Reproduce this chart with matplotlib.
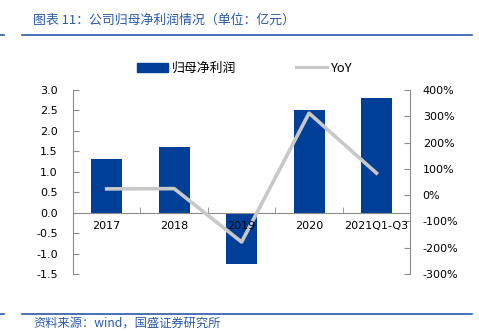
import matplotlib
matplotlib.use("Agg")
import matplotlib.pyplot as plt
from matplotlib.lines import Line2D
from matplotlib.patches import Patch

plt.rcParams['font.family'] = ['DejaVu Sans', 'Noto Sans CJK SC']

years = ["2017", "2018", "2019", "2020", "2021Q1-Q3"]
profit = [1.32, 1.61, -1.25, 2.52, 2.81]     # 归母净利润, 亿元
yoy = [24, 25, -178, 312, 84]                 # YoY, %

bar_blue = "#003f98"
line_grey = "#c8c8c8"
head_blue = "#2a5aa8"
axis_grey = "#8c8c8c"
cjk = ['Noto Sans CJK SC', 'DejaVu Sans']

fig = plt.figure(figsize=(4.79, 3.31), dpi=100)
ax = fig.add_axes([0.1524, 0.172, 0.704, 0.556])
ax2 = ax.twinx()

ax.set_xlim(-0.5, len(years) - 0.5)
ax.set_ylim(-1.5, 3.0)
ax2.set_ylim(-300, 400)

x = list(range(len(years)))
ax.bar(x, profit, width=0.46, color=bar_blue, zorder=2)
# YoY line lives in ax (so the category labels can sit above it) but uses the right-hand scale
ax.plot(x, yoy, color=line_grey, lw=2.6, zorder=3, transform=ax2.transData)
ax.xaxis.set_zorder(4)

ax.set_yticks([-1.5, -1.0, -0.5, 0, 0.5, 1.0, 1.5, 2.0, 2.5, 3.0])
ax.set_yticklabels([f"{v:.1f}" for v in ax.get_yticks()])
ax2.set_yticks(range(-300, 401, 100))
ax2.set_yticklabels([f"{v}%" for v in range(-300, 401, 100)])

# category axis sits on the zero line
ax.spines['bottom'].set_position(('data', 0))
ax.set_xticks(x)
ax.set_xticklabels(years)
ax.set_xticks([i + 0.5 for i in x[:-1]], minor=True)
ax.tick_params(axis='x', which='major', length=0, pad=6, labelsize=8)
ax.tick_params(axis='x', which='minor', length=4, direction='in', color=axis_grey)

for a in (ax, ax2):
    a.spines['top'].set_visible(False)
    for s in ('left', 'right', 'bottom'):
        a.spines[s].set_color(axis_grey)
        a.spines[s].set_linewidth(0.8)
ax.spines['right'].set_visible(False)
ax2.spines['left'].set_visible(False)
ax2.spines['bottom'].set_visible(False)
ax.tick_params(axis='y', direction='in', length=4, color=axis_grey, labelsize=8, pad=11)
ax2.tick_params(axis='y', direction='in', length=4, color=axis_grey, labelsize=8, pad=9)
ax2.set_zorder(ax.get_zorder() - 1)
ax.patch.set_visible(False)

# legend
handles = [Patch(color=bar_blue), Line2D([], [], color=line_grey, lw=2.2)]
fig.legend(handles, ["归母净利润", "YoY"], loc='center', bbox_to_anchor=(0.511, 0.793),
           ncol=2, frameon=False, handlelength=2.4, handleheight=0.75,
           columnspacing=4.6, handletextpad=0.35,
           prop={'family': cjk, 'size': 9.3})

# header and footer
fig.text(0.069, 0.94, "图表 11：公司归母净利润情况（单位：亿元）", color=head_blue,
         fontsize=9.3, style='italic', va='center', family=cjk)
fig.text(0.069, 0.025, "资料来源：wind，国盛证券研究所", color=head_blue,
         fontsize=8.8, style='italic', va='center', family=cjk)
for yy in (1 - 35 / 331, 1 - 314 / 331):
    fig.add_artist(Line2D([0.046, 0.986], [yy, yy], color=head_blue, lw=1.2))
    fig.add_artist(Line2D([0.0, 0.008], [yy, yy], color=head_blue, lw=1.2))

fig.savefig("out.png", dpi=100)
